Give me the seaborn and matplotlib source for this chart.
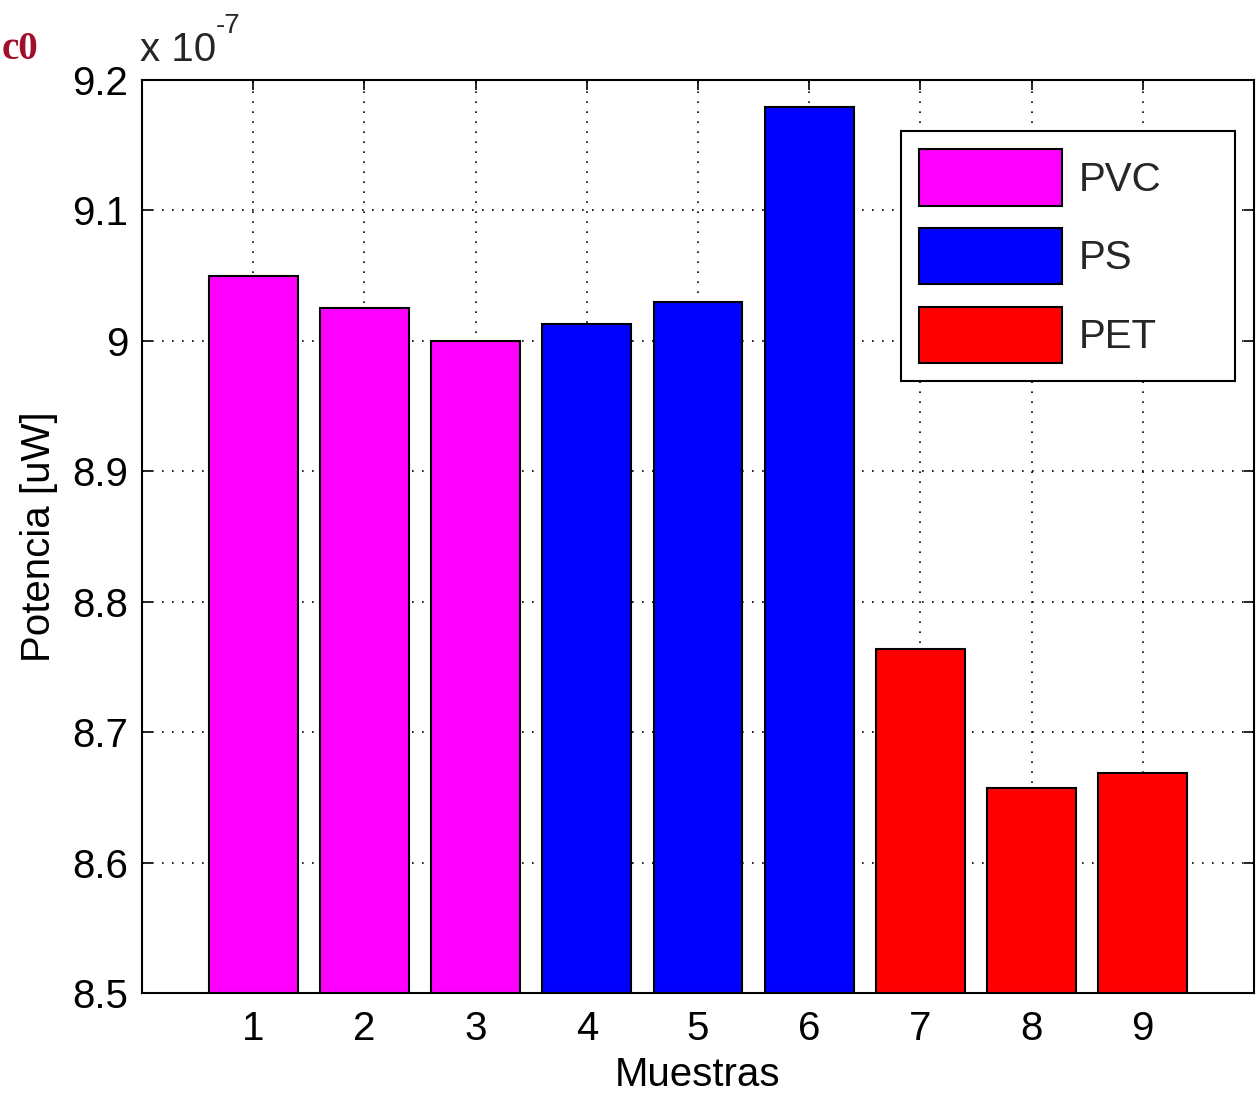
import matplotlib
matplotlib.use("Agg")
import matplotlib.pyplot as plt
import seaborn as sns
import pandas as pd

# datos (x 10^-7)
muestras = ["1", "2", "3", "4", "5", "6", "7", "8", "9"]
potencia = [9.05, 9.025, 9.0, 9.013, 9.03, 9.179, 8.764, 8.657, 8.669]
material = ["PVC", "PVC", "PVC", "PS", "PS", "PS", "PET", "PET", "PET"]
colores = {"PVC": "#ff00ff", "PS": "#0000ff", "PET": "#ff0000"}
yticks = [8.5, 8.6, 8.7, 8.8, 8.9, 9.0, 9.1, 9.2]
ytick_labels = ["8.5", "8.6", "8.7", "8.8", "8.9", "9", "9.1", "9.2"]

df = pd.DataFrame({"Muestras": muestras, "Potencia": potencia, "Material": material})

sns.set_theme(style="white")
plt.rcParams["font.family"] = ["Liberation Sans", "DejaVu Sans"]

fig = plt.figure(figsize=(12.59, 11.02), dpi=100)
ax = fig.add_axes([0.1128, 0.0989, 0.8832, 0.8285])

sns.barplot(data=df, x="Muestras", y="Potencia", hue="Material", palette=colores,
            dodge=False, width=0.8, edgecolor="black", linewidth=1.5, saturation=1,
            ax=ax)

ax.set_xlim(-1, 9)
ax.set_ylim(8.5, 9.2)
ax.set_yticks(yticks)
ax.set_yticklabels(ytick_labels)

ax.grid(True, linestyle=(0, (1, 5)), color="black", linewidth=1.2)
ax.set_axisbelow(True)
for s in ax.spines.values():
    s.set_color("black")
    s.set_linewidth(1.5)
ax.tick_params(axis="both", direction="in", length=7, width=1.2, labelsize=29,
               top=True, right=True, bottom=True, left=True, colors="black", pad=10)
ax.tick_params(axis="x", pad=12)

ax.set_xlabel("Muestras", fontsize=29, color="black", labelpad=6)
ax.set_ylabel("Potencia [uW]", fontsize=29, color="black", labelpad=10)

# factor de escala como en matlab
ax.text(-0.002, 1.012, "x 10", transform=ax.transAxes, fontsize=29,
        ha="left", va="bottom")
ax.text(0.066, 1.045, "-7", transform=ax.transAxes, fontsize=20,
        ha="left", va="bottom")

fig.text(0.001, 0.955, "c0", fontsize=28, color="#a0102a", fontweight="bold",
         family=["Liberation Serif", "DejaVu Serif"], ha="left", va="center")

leg = ax.legend(loc="upper left", bbox_to_anchor=(0.6826, 0.944, 0.3004, 0.0),
                mode="expand", borderaxespad=0,
                fontsize=29, handlelength=3.55, handleheight=1.78, frameon=True,
                fancybox=False, edgecolor="black", framealpha=1, labelspacing=0.55,
                borderpad=0.45, handletextpad=0.4)
leg.get_frame().set_linewidth(1.5)

fig.savefig("out.png", dpi=100)
